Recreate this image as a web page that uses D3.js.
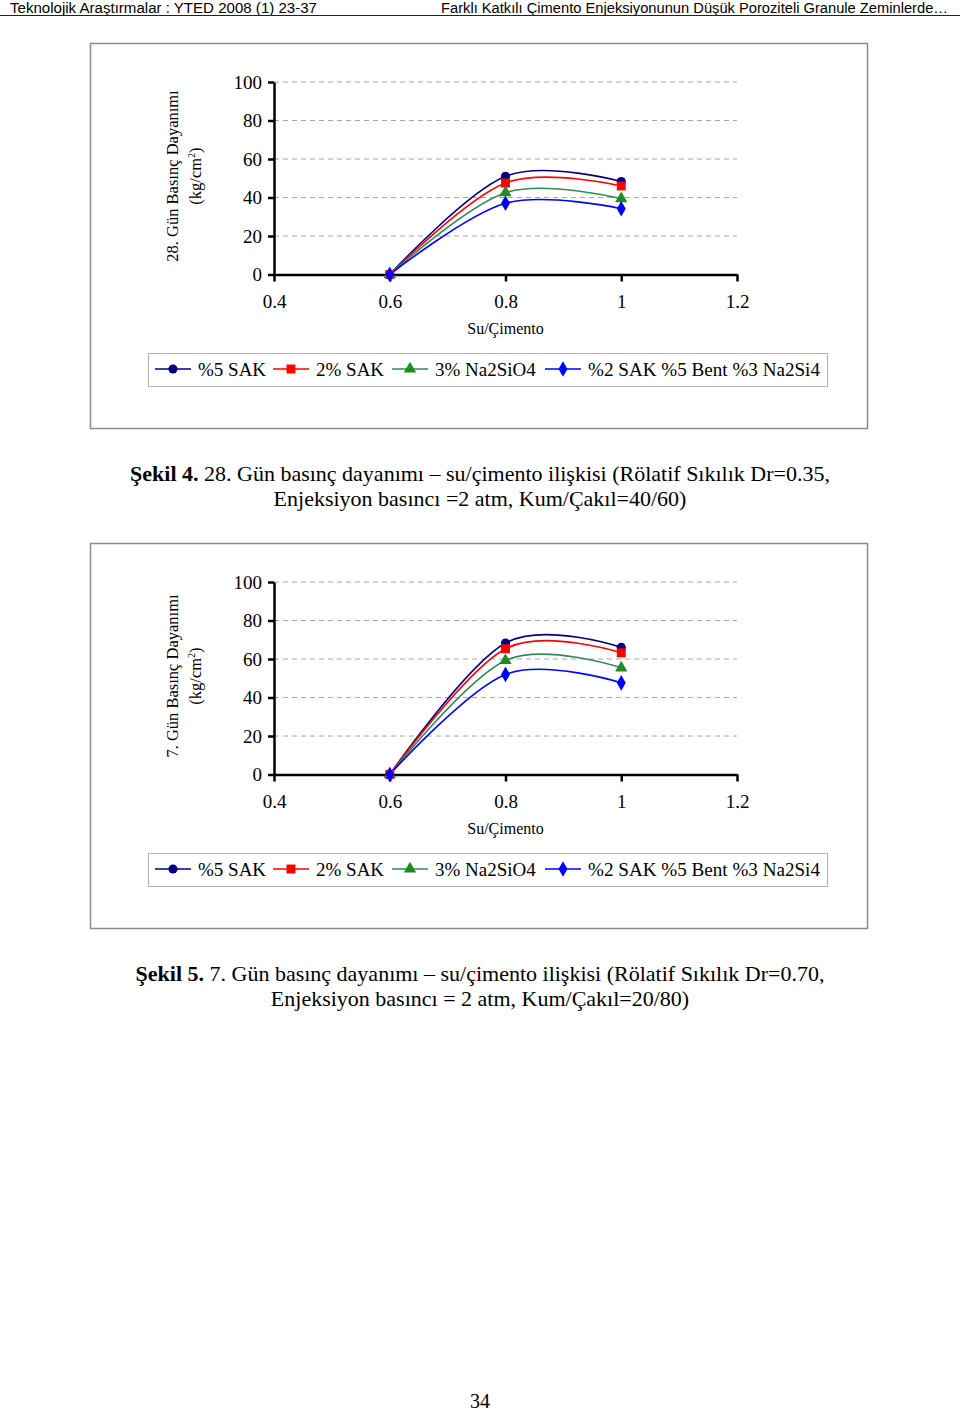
<!DOCTYPE html>
<html><head><meta charset="utf-8">
<script src="https://cdn.jsdelivr.net/npm/d3@7"></script>
<style>
body{margin:0;background:#fff;}
svg{display:block;}
</style></head>
<body>
<script>
// ---- data ----
const suCimento = [0.6, 0.8, 1.0];
const xTicks = [0.4, 0.6, 0.8, 1, 1.2];
const yTicks = [0, 20, 40, 60, 80, 100];
const seriesNames = ["%5 SAK", "2% SAK", "3% Na2SiO4", "%2 SAK %5 Bent %3 Na2Si4"];
const seriesColors = ["#000080", "#FF0000", "#2E8B57", "#0000FF"];
const markerColors = ["#000080", "#FF0000", "#228B22", "#0000FF"];
const markerTypes = ["circle", "square", "triangle", "diamond"];
// 28 day strength (Şekil 4)
const d28_sak5 = [0, 51, 48.3];
const d28_sak2 = [0, 47.5, 46];
const d28_na = [0, 42.5, 39.4];
const d28_mix = [0, 37, 34.2];
// 7 day strength (Şekil 5)
const d7_sak5 = [0, 68.3, 66];
const d7_sak2 = [0, 65.3, 63.2];
const d7_na = [0, 59.2, 55.4];
const d7_mix = [0, 52, 47.6];

const W = 960, H = 1412;
const svg = d3.select("body").append("svg").attr("width", W).attr("height", H);
const serif = "'Liberation Serif','Times New Roman',serif";
const sans = "'Liberation Sans Narrow','Arial Narrow','Liberation Sans',Arial,sans-serif";

// header
svg.append("text").attr("x", 10).attr("y", 13).attr("font-family", sans).attr("font-size", 14)
  .attr("textLength", 307).attr("lengthAdjust", "spacingAndGlyphs")
  .text("Teknolojik Araştırmalar : YTED  2008 (1) 23-37");
svg.append("text").attr("x", 441).attr("y", 13).attr("font-family", sans).attr("font-size", 14)
  .attr("textLength", 507).attr("lengthAdjust", "spacingAndGlyphs")
  .text("Farklı Katkılı Çimento Enjeksiyonunun Düşük Poroziteli Granule Zeminlerde…");
svg.append("line").attr("x1", 0).attr("x2", 960).attr("y1", 15.5).attr("y2", 15.5)
  .attr("stroke", "#222").attr("stroke-width", 1);

function symbolFor(t) {
  return { circle: d3.symbolCircle, square: d3.symbolSquare, triangle: d3.symbolTriangle, diamond: d3.symbolDiamond }[t];
}
function symSize(t) { return { circle: 66, square: 80, triangle: 66, diamond: 70 }[t]; }

function drawChart(top, title, series, cap1bold, cap1, cap2, capY) {
  const g = svg.append("g");
  // outer frame
  g.append("rect").attr("x", 90.5).attr("y", top + 0.5).attr("width", 777).attr("height", 385)
    .attr("fill", "#fff").attr("stroke", "#8c8c8c").attr("stroke-width", 1.5);
  const x = d3.scaleLinear().domain([0.4, 1.2]).range([274, 737]);
  const y = d3.scaleLinear().domain([0, 100]).range([top + 231.5, top + 39]);
  // gridlines
  g.append("g").selectAll("line").data(yTicks.filter(d => d > 0)).join("line")
    .attr("x1", x(0.4)).attr("x2", x(1.2)).attr("y1", d => y(d)).attr("y2", d => y(d))
    .attr("stroke", "#a6a6a6").attr("stroke-width", 1).attr("stroke-dasharray", "5,4");
  // axes
  const yAxis = g.append("g").attr("transform", `translate(${x(0.4)},0)`)
    .call(d3.axisLeft(y).tickValues(yTicks).tickSize(6).tickSizeOuter(0).tickPadding(6).tickFormat(d3.format("d")));
  const xAxis = g.append("g").attr("transform", `translate(0,${y(0)})`)
    .call(d3.axisBottom(x).tickValues(xTicks).tickSize(7).tickSizeOuter(0).tickPadding(13).tickFormat(d => String(d)));
  [yAxis, xAxis].forEach(a => {
    a.select(".domain").attr("stroke", "#000").attr("stroke-width", 2.5);
    a.selectAll(".tick line").attr("stroke", "#000").attr("stroke-width", 2.5);
    a.selectAll(".tick text").attr("font-family", serif).attr("font-size", 19).attr("fill", "#000");
  });
  // axis titles
  g.append("text").attr("x", x(0.8)).attr("y", top + 291).attr("text-anchor", "middle")
    .attr("font-family", serif).attr("font-size", 16).text("Su/Çimento");
  const cy = top + 133;
  g.append("text").attr("transform", `translate(178,${cy}) rotate(-90)`).attr("text-anchor", "middle")
    .attr("font-family", serif).attr("font-size", 16.5).text(title);
  const t2 = g.append("text").attr("transform", `translate(201,${cy}) rotate(-90)`).attr("text-anchor", "middle")
    .attr("font-family", serif).attr("font-size", 16.5);
  t2.append("tspan").text("(kg/cm");
  t2.append("tspan").attr("font-size", 10).attr("dy", -6).text("2");
  t2.append("tspan").attr("dy", 6).text(")");
  // lines
  const line = d3.line().x((d, i) => x(suCimento[i])).y(d => y(d)).curve(d3.curveCardinal.tension(0));
  series.forEach((s, k) => {
    g.append("path").attr("d", line(s)).attr("fill", "none")
      .attr("stroke", seriesColors[k]).attr("stroke-width", 1.6);
  });
  series.forEach((s, k) => {
    g.append("g").selectAll("path").data(s).join("path")
      .attr("transform", (d, i) => `translate(${x(suCimento[i])},${y(d)})`)
      .attr("d", d3.symbol().type(symbolFor(markerTypes[k])).size(symSize(markerTypes[k])))
      .attr("fill", markerColors[k]);
  });
  // legend
  const ly = top + 326;
  g.append("rect").attr("x", 148.5).attr("y", top + 310.5).attr("width", 679).attr("height", 33)
    .attr("fill", "#fff").attr("stroke", "#b3b3b3").attr("stroke-width", 1);
  const legX = [155, 273, 392, 545];
  seriesNames.forEach((n, k) => {
    const lx = legX[k];
    g.append("line").attr("x1", lx).attr("x2", lx + 36).attr("y1", ly).attr("y2", ly)
      .attr("stroke", seriesColors[k]).attr("stroke-width", 1.6);
    g.append("path").attr("transform", `translate(${lx + 18},${ly})`)
      .attr("d", d3.symbol().type(symbolFor(markerTypes[k])).size(symSize(markerTypes[k])))
      .attr("fill", markerColors[k]);
    g.append("text").attr("x", lx + 43).attr("y", ly + 7).attr("font-family", serif)
      .attr("font-size", 19).attr("textLength", k === 3 ? 232 : null).attr("lengthAdjust", "spacingAndGlyphs").text(n);
  });
  // caption
  const c = svg.append("text").attr("x", 480).attr("y", capY).attr("text-anchor", "middle")
    .attr("font-family", serif).attr("font-size", 22);
  c.append("tspan").attr("font-weight", "bold").text(cap1bold);
  c.append("tspan").text(cap1);
  svg.append("text").attr("x", 480).attr("y", capY + 25).attr("text-anchor", "middle")
    .attr("font-family", serif).attr("font-size", 22).text(cap2);
}

drawChart(43, "28. Gün Basınç Dayanımı", [d28_sak5, d28_sak2, d28_na, d28_mix],
  "Şekil 4.", " 28. Gün basınç dayanımı – su/çimento ilişkisi (Rölatif Sıkılık Dr=0.35,",
  "Enjeksiyon basıncı =2 atm, Kum/Çakıl=40/60)", 481);
drawChart(543, "7. Gün Basınç Dayanımı", [d7_sak5, d7_sak2, d7_na, d7_mix],
  "Şekil 5.", " 7. Gün basınç dayanımı – su/çimento ilişkisi (Rölatif Sıkılık Dr=0.70,",
  "Enjeksiyon basıncı = 2 atm, Kum/Çakıl=20/80)", 981);

svg.append("text").attr("x", 480).attr("y", 1408).attr("text-anchor", "middle")
  .attr("font-family", serif).attr("font-size", 20).text("34");
</script>
</body></html>
